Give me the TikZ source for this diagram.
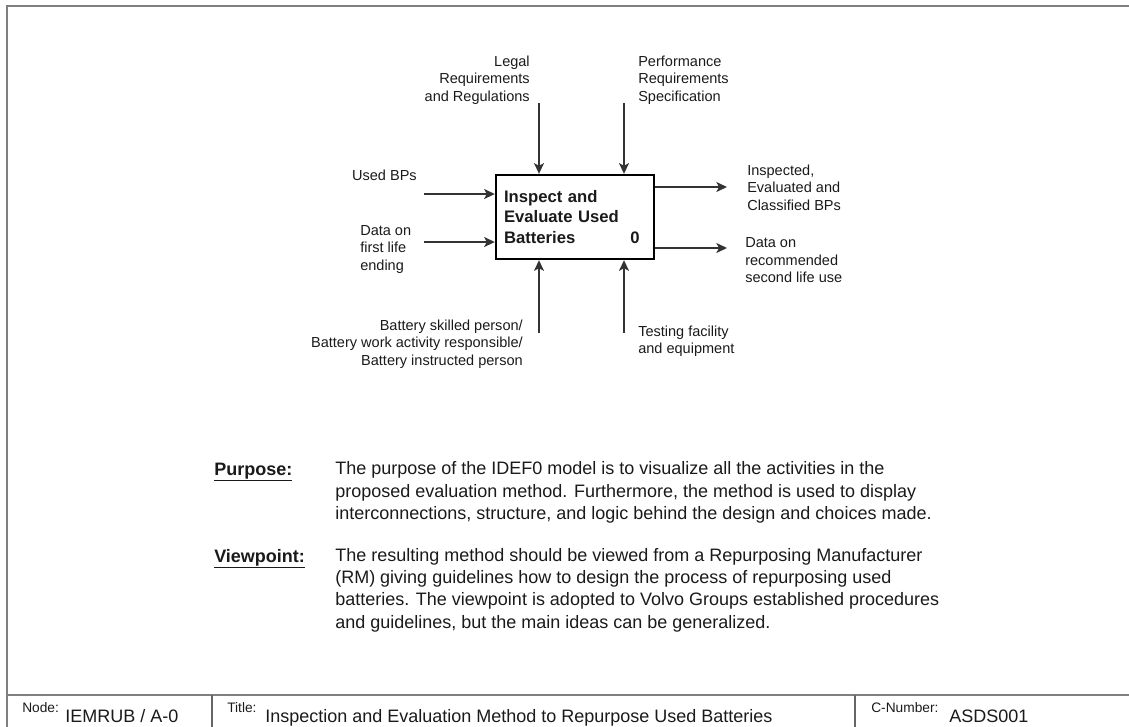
\documentclass[tikz,border=0pt]{standalone}
\usepackage{fontspec}
\setmainfont{Liberation Sans}
\usetikzlibrary{arrows.meta}
\definecolor{framegray}{HTML}{7F7F7F}
\definecolor{flowgray}{HTML}{333333}
\definecolor{inkgray}{HTML}{1A1A1A}
\begin{document}
\begin{tikzpicture}[x=0.75pt,y=-0.75pt,
  lbl/.style={font=\fontsize{10.9}{13.1}\selectfont, inner sep=0pt, text=inkgray},
  flow/.style={draw=flowgray, line width=1pt,
    -{Stealth[length=8pt,width=7.5pt,inset=2pt]}},
  actfont/.style={font=\fontsize{12.5}{15.2}\selectfont\bfseries, text=inkgray},
  actbox/.style={actfont, draw=black, line width=1.8pt, minimum width=118.5pt,
    minimum height=63pt, inner xsep=6pt, text width=106.5pt, align=left},
  prose/.style={font=\fontsize{13.5}{16.7}\selectfont, inner sep=0pt,
    text=inkgray, align=left},
  tag/.style={font=\fontsize{10.3}{11}\selectfont, inner sep=0pt, text=inkgray},
  value/.style={font=\fontsize{13.5}{15}\selectfont, inner sep=0pt, text=inkgray},
  frameline/.style={draw=framegray, line width=1.5pt},
  cellline/.style={draw=framegray!80!black, line width=1.2pt}
]
\useasboundingbox (0,0) rectangle (1129,726);
\begin{scope}
\clip (0,0) rectangle (1129,726);
% sheet frame and title block
\draw[frameline] (7,740) -- (7,6) -- (1140,6);
\draw[frameline] (7,695) -- (1140,695);
\draw[cellline] (212,695) -- (212,740);
\draw[cellline] (855,695) -- (855,740);
\end{scope}

% activity box
\node[actbox] (act) at (575,217) {Inspect and\\Evaluate Used\\Batteries};
\node[actfont, inner sep=0pt, anchor=base east] (actnum) at (640,243) {0};

% arrow end points
\coordinate (c1) at (539,103);
\coordinate (c2) at (624,103);
\coordinate (m1) at (539,333);
\coordinate (m2) at (624,333);
\coordinate (i1) at (424,194);
\coordinate (i2) at (424,242);
\coordinate (o1) at (727,187);
\coordinate (o2) at (727,248);

% controls
\draw[flow] (c1) -- (c1 |- act.north);
\draw[flow] (c2) -- (c2 |- act.north);
% mechanisms
\draw[flow] (m1) -- (m1 |- act.south);
\draw[flow] (m2) -- (m2 |- act.south);
% inputs
\draw[flow] (i1) -- (i1 -| act.west);
\draw[flow] (i2) -- (i2 -| act.west);
% outputs
\draw[flow] (o1 -| act.east) -- (o1);
\draw[flow] (o2 -| act.east) -- (o2);

% arrow labels (base anchor sits on the last line)
\node[lbl, anchor=base east, align=right] (legal) at (530,101)
  {Legal\\Requirements\\and Regulations};
\node[lbl, anchor=base west, align=left] (perf) at (638,101)
  {Performance\\Requirements\\Specification};
\node[lbl, anchor=base east] (usedbp) at (417,180) {Used BPs};
\node[lbl, anchor=base west, align=left] (firstlife) at (360,270)
  {Data on\\first life\\ending};
\node[lbl, anchor=base west, align=left] (inspected) at (747,210)
  {Inspected,\\Evaluated and\\Classified BPs};
\node[lbl, anchor=base west, align=left] (secondlife) at (745,282.5)
  {Data on\\recommended\\second life use};
\node[lbl, anchor=base east, align=right] (persons) at (523,365)
  {Battery skilled person/\\Battery work activity responsible/\\Battery instructed person};
\node[lbl, anchor=base west, align=left] (testing) at (638,353.5)
  {Testing facility\\and equipment};

% purpose and viewpoint
\node[prose, anchor=base west, font=\fontsize{13.5}{16.7}\selectfont\bfseries]
  (purposetag) at (214,475) {\underline{Purpose:}};
\node[prose, anchor=base west] (purposetext) at (335,519.5)
  {The purpose of the IDEF0 model is to visualize all the activities in the\\
   proposed evaluation method. Furthermore, the method is used to display\\
   interconnections, structure, and logic behind the design and choices made.};
\node[prose, anchor=base west, font=\fontsize{13.5}{16.7}\selectfont\bfseries]
  (viewtag) at (214,562) {\underline{Viewpoint:}};
\node[prose, anchor=base west] (viewtext) at (335,628)
  {The resulting method should be viewed from a Repurposing Manufacturer\\
   (RM) giving guidelines how to design the process of repurposing used\\
   batteries. The viewpoint is adopted to Volvo Groups established procedures\\
   and guidelines, but the main ideas can be generalized.};

% title block entries
\node[tag, anchor=base west] (nodetag) at (22,712) {Node:};
\node[value, anchor=base west] (nodeval) at (65,722) {IEMRUB / A-0};
\node[tag, anchor=base west] (titletag) at (227,712) {Title:};
\node[value, anchor=base west] (titleval) at (265,722)
  {Inspection and Evaluation Method to Repurpose Used Batteries};
\node[tag, anchor=base west] (cnumtag) at (871,712) {C-Number:};
\node[value, anchor=base west] (cnumval) at (949,722) {ASDS001};
\end{tikzpicture}
\end{document}
